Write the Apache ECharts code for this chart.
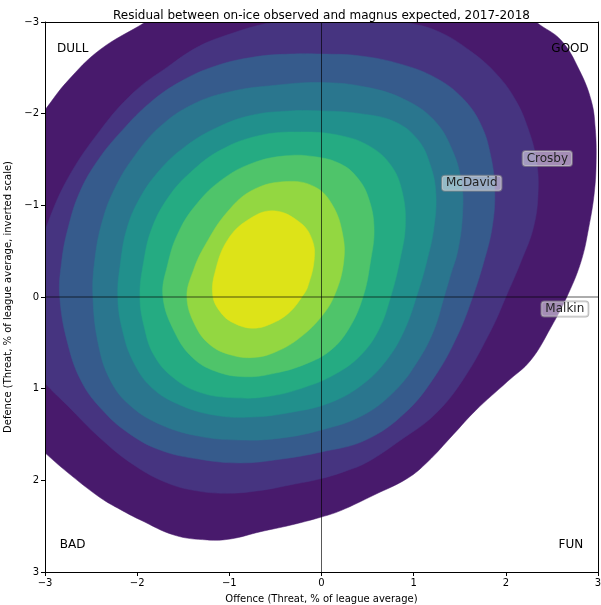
<!DOCTYPE html>
<html><head><meta charset="utf-8">
<script src="https://cdn.jsdelivr.net/npm/echarts@6/dist/echarts.min.js"></script>
<style>html,body{margin:0;padding:0;background:#fff}#chart{width:601px;height:605px}</style>
</head><body><div id="chart"></div>
<script>
// Contour boundaries (data coords: offence x, defence y), outermost first
const contour1 = [[-3.16,-1.82],[-3.0,-2.04],[-2.76,-2.35],[-2.40,-2.70],[-1.91,-3.0],[-1.64,-3.19],[0,-3.46],[2.08,-3.24],[2.33,-3.0],[2.60,-2.80],[2.80,-2.47],[2.93,-2.13],[2.97,-1.84],[2.98,-1.50],[2.96,-1.14],[2.90,-0.76],[2.82,-0.40],[2.68,-0.04],[2.49,0.33],[2.27,0.69],[2.02,0.92],[1.67,1.24],[1.43,1.50],[1.15,1.80],[0.93,1.98],[0.57,2.16],[0.21,2.33],[0,2.40],[-0.34,2.49],[-0.66,2.56],[-0.99,2.64],[-1.24,2.65],[-1.59,2.60],[-1.97,2.43],[-2.18,2.32],[-2.40,2.19],[-2.76,1.91],[-3.0,1.70],[-3.18,1.53],[-3.38,-0.08]];
const contour2 = [[-3.16,0.74],[-3.27,0.14],[-3.11,-0.40],[-3.0,-0.73],[-2.76,-1.28],[-2.40,-1.82],[-2.04,-2.23],[-1.67,-2.51],[-1.32,-2.74],[-0.96,-2.88],[-0.66,-2.97],[-0.48,-3.0],[0.21,-3.11],[0.89,-3.0],[1.26,-2.90],[1.62,-2.68],[1.91,-2.42],[2.11,-2.14],[2.24,-1.84],[2.33,-1.50],[2.35,-1.14],[2.30,-0.76],[2.17,-0.40],[2.0,0],[1.84,0.36],[1.53,0.91],[1.22,1.29],[0.86,1.56],[0.50,1.80],[0.26,1.90],[0,1.98],[-0.34,2.05],[-0.66,2.11],[-0.99,2.14],[-1.32,2.12],[-1.67,2.03],[-2.04,1.83],[-2.40,1.54],[-2.76,1.18],[-3.0,0.94]];
const contour3 = [[-2.84,0],[-2.82,-0.38],[-2.75,-0.75],[-2.62,-1.15],[-2.42,-1.50],[-2.16,-1.82],[-1.86,-2.12],[-1.53,-2.35],[-1.15,-2.52],[-0.72,-2.62],[-0.34,-2.65],[0,-2.65],[0.42,-2.63],[0.86,-2.54],[1.24,-2.39],[1.53,-2.17],[1.73,-1.88],[1.84,-1.52],[1.88,-1.14],[1.85,-0.75],[1.76,-0.38],[1.64,0],[1.48,0.41],[1.24,0.85],[0.91,1.26],[0.48,1.56],[0,1.69],[-0.45,1.77],[-0.88,1.81],[-1.32,1.77],[-1.75,1.67],[-2.10,1.48],[-2.38,1.23],[-2.60,0.93],[-2.75,0.52]];
const contour4 = [[-2.48,0],[-2.46,-0.40],[-2.38,-0.82],[-2.24,-1.19],[-2.02,-1.55],[-1.75,-1.86],[-1.40,-2.10],[-0.99,-2.24],[-0.50,-2.31],[0,-2.34],[0.48,-2.29],[0.89,-2.16],[1.22,-1.93],[1.42,-1.60],[1.52,-1.24],[1.53,-0.90],[1.48,-0.51],[1.40,-0.24],[1.33,0],[1.22,0.36],[1.05,0.69],[0.80,1.02],[0.45,1.29],[0,1.45],[-0.45,1.54],[-0.88,1.56],[-1.32,1.52],[-1.75,1.39],[-2.08,1.18],[-2.29,0.91],[-2.42,0.52]];
const contour5 = [[-2.21,0],[-2.18,-0.38],[-2.11,-0.75],[-1.97,-1.08],[-1.75,-1.39],[-1.48,-1.64],[-1.15,-1.84],[-0.77,-1.98],[-0.34,-2.03],[0,-2.03],[0.42,-2.00],[0.80,-1.91],[1.05,-1.71],[1.18,-1.44],[1.24,-1.14],[1.22,-0.76],[1.14,-0.38],[1.03,0],[0.90,0.36],[0.72,0.67],[0.45,0.95],[0.10,1.15],[-0.34,1.26],[-0.77,1.31],[-1.15,1.29],[-1.53,1.18],[-1.84,0.99],[-2.04,0.71],[-2.16,0.36]];
const contour6 = [[-1.97,0],[-1.93,-0.38],[-1.84,-0.75],[-1.66,-1.09],[-1.42,-1.36],[-1.10,-1.60],[-0.68,-1.76],[-0.23,-1.80],[0.21,-1.76],[0.53,-1.64],[0.75,-1.44],[0.87,-1.17],[0.91,-0.79],[0.85,-0.40],[0.75,0],[0.62,0.36],[0.42,0.64],[0.15,0.84],[-0.17,0.98],[-0.55,1.08],[-0.93,1.10],[-1.32,1.04],[-1.62,0.87],[-1.82,0.63],[-1.92,0.34]];
const contour7 = [[-1.72,0],[-1.67,-0.35],[-1.55,-0.71],[-1.35,-1.02],[-1.08,-1.28],[-0.75,-1.46],[-0.39,-1.54],[-0.07,-1.53],[0.21,-1.45],[0.39,-1.30],[0.51,-1.08],[0.57,-0.75],[0.53,-0.38],[0.45,0],[0.30,0.34],[0.10,0.58],[-0.17,0.73],[-0.50,0.83],[-0.83,0.87],[-1.15,0.81],[-1.40,0.66],[-1.59,0.39]];
const contour8 = [[-1.46,0],[-1.39,-0.29],[-1.26,-0.57],[-1.02,-0.93],[-0.74,-1.17],[-0.37,-1.26],[-0.07,-1.20],[0.12,-1.00],[0.23,-0.68],[0.24,-0.38],[0.15,-0.04],[0.01,0.20],[-0.23,0.44],[-0.50,0.60],[-0.74,0.66],[-0.99,0.63],[-1.21,0.52],[-1.37,0.31]];
const contour9 = [[-1.18,-0.02],[-1.15,-0.29],[-1.02,-0.62],[-0.80,-0.84],[-0.52,-0.94],[-0.23,-0.81],[-0.10,-0.62],[-0.08,-0.40],[-0.15,-0.11],[-0.20,-0.02],[-0.34,0.16],[-0.52,0.28],[-0.74,0.34],[-0.96,0.28],[-1.10,0.16]];
const levelColors = ['#481a6c','#463480','#365b8c','#2a768e','#21908c','#25ab82','#4fc46a','#93d741','#dde318'];

const quadrantNames = ['DULL','GOOD','BAD','FUN'];
const quadrantX = [-2.87, 2.90, -2.84, 2.84];
const quadrantY = [-2.71, -2.71, 2.70, 2.70];
const quadrantAlign = ['left','right','left','right'];

const playerNames = ['Crosby','McDavid','Malkin'];
const playerX = [2.45, 1.63, 2.64];
const playerY = [-1.51, -1.24, 0.13];

const tickValues = [-3,-2,-1,0,1,2,3];
const tickLabels = ['\u22123','\u22122','\u22121','0','1','2','3'];

const FONT = 'DejaVu Sans';
const contours = [contour1,contour2,contour3,contour4,contour5,contour6,contour7,contour8,contour9];

function fmt(v){ const i = tickValues.indexOf(v); return i >= 0 ? tickLabels[i] : ''; }

const series = contours.map(function(pts, i){
  return {
    type:'custom', coordinateSystem:'cartesian2d', silent:true, animation:false,
    z: 2,
    data: pts, encode:{x:0, y:1},
    renderItem: function(params, api){
      if (params.dataIndex !== 0) return null;
      const cs = params.coordSys;
      return {
        type:'polygon',
        shape:{points: pts.map(function(p){ return api.coord(p); }), smooth:0.4},
        style:{fill: levelColors[i], stroke: levelColors[i], lineWidth:0.5},
        clipPath:{type:'rect', shape:{x:cs.x, y:cs.y, width:cs.width, height:cs.height}}
      };
    }
  };
});

series.push({
  type:'line', silent:true, animation:false, z:5, symbol:'none',
  data:[[tickValues[0],0],[tickValues[6],0]],
  lineStyle:{color:'#000', width:1, opacity:0.65}
});
series.push({
  type:'line', silent:true, animation:false, z:5, symbol:'none',
  data:[[0,tickValues[0]],[0,tickValues[6]]],
  lineStyle:{color:'#000', width:1, opacity:0.65}
});
series.push({
  type:'custom', coordinateSystem:'cartesian2d', silent:true, animation:false, z:6,
  data: quadrantNames.map(function(n,i){ return [quadrantX[i], quadrantY[i], i]; }),
  encode:{x:0, y:1},
  renderItem: function(params, api){
    const i = api.value(2);
    const p = api.coord([api.value(0), api.value(1)]);
    return {type:'text', x:p[0], y:p[1],
      style:{text: quadrantNames[i], fill:'#000', font:'12px "DejaVu Sans"', align: quadrantAlign[i], verticalAlign:'middle'}};
  }
});
series.push({
  type:'custom', coordinateSystem:'cartesian2d', silent:true, animation:false, z:7,
  data: playerNames.map(function(n,i){ return [playerX[i], playerY[i], i]; }),
  encode:{x:0, y:1},
  renderItem: function(params, api){
    const i = api.value(2);
    const p = api.coord([api.value(0), api.value(1)]);
    return {type:'text', x:p[0], y:p[1],
      style:{text: playerNames[i], fill:'#222', font:'12px "DejaVu Sans"', align:'center', verticalAlign:'middle',
        backgroundColor:'rgba(255,255,255,0.5)', borderColor:'rgba(140,140,140,0.6)', borderWidth:1,
        borderRadius:3, padding:[2,4,1,4]}};
  }
});

const axisCommon = {
  type:'value', min:-3, max:3, interval:1, z:10,
  splitLine:{show:false},
  axisLine:{show:true, onZero:false, lineStyle:{color:'#000', width:1}},
  axisTick:{show:true, length:4, lineStyle:{color:'#000'}},
  axisLabel:{show:true, color:'#000', fontSize:10, fontFamily:FONT, margin:6}
};
function clone(o){ return JSON.parse(JSON.stringify(o)); }
const xMain = Object.assign(clone(axisCommon), {
  position:'bottom',
  name:'Offence (Threat, % of league average)', nameLocation:'middle', nameGap:22,
  nameTextStyle:{color:'#000', fontSize:10, fontFamily:FONT}
});
xMain.axisLabel.formatter = fmt;
const yMain = Object.assign(clone(axisCommon), {
  position:'left', inverse:true,
  name:'Defence (Threat, % of league average, inverted scale)', nameLocation:'middle', nameGap:25,
  nameRotate:90,
  nameTextStyle:{color:'#000', fontSize:10, fontFamily:FONT}
});
yMain.axisLabel.formatter = fmt;
const xTop = Object.assign(clone(axisCommon), {position:'top', axisTick:{show:false}, axisLabel:{show:false}});
const yRight = Object.assign(clone(axisCommon), {position:'right', inverse:true, axisTick:{show:false}, axisLabel:{show:false}});

const chart = echarts.init(document.getElementById('chart'), null, {renderer:'canvas'});
chart.setOption({
  animation:false,
  backgroundColor:'#fff',
  title:{text:'Residual between on-ice observed and magnus expected, 2017-2018', left:108, top:5,
    textStyle:{fontSize:12, fontWeight:'normal', color:'#000', fontFamily:FONT}},
  grid:{left:45, right:3, top:22, bottom:33, containLabel:false, outerBoundsMode:'none'},
  xAxis:[xMain, xTop],
  yAxis:[yMain, yRight],
  series: series
});
</script></body></html>
